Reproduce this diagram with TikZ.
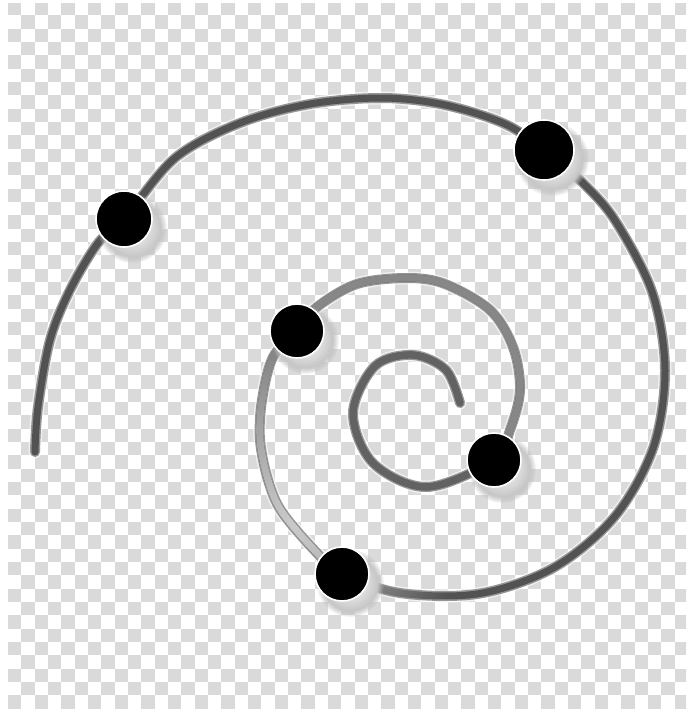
\documentclass[tikz,border=0pt]{standalone}
\usetikzlibrary{fadings}
\definecolor{chk}{RGB}{218,218,218}
\definecolor{coreline}{RGB}{82,82,82}
\definecolor{edgeline}{RGB}{150,150,150}
\definecolor{midtone}{RGB}{135,135,135}
\definecolor{lighttone}{RGB}{205,205,205}
\definecolor{innerdark}{RGB}{98,98,98}
\tikzfading[name=lightfade, inner color=transparent!0, outer color=transparent!100]
\tikzset{
  spiralglow/.style={white, line width=13pt, opacity=0.6, line cap=round, line join=round},
  spiraledge/.style={edgeline, line width=10pt, line cap=round, line join=round},
  spiralcore/.style={coreline, line width=7pt, line cap=round, line join=round},
  dotdisk/.style={circle, fill=black, draw=white, line width=1.6pt, inner sep=0pt},
  dotshade/.style={inner color=white, outer color=gray!55, path fading=circle with fuzzy edge 20 percent}
}
\begin{document}
\begin{tikzpicture}[x=1pt,y=-1pt]
\useasboundingbox (0,0) rectangle (686,709);
\fill[white] (0,0) rectangle (686,709);
% checkerboard
\begin{scope}
\clip (8,4) rectangle (686,709);
\foreach \i in {0,...,50}{
  \foreach \j in {0,...,52}{
    \pgfmathtruncatemacro\chkpar{mod(\i+\j,2)}
    \ifnum\chkpar=0
      \fill[chk] ({8+13.333*\i},{2+13.333*\j}) rectangle ++(13.333,13.333);
    \fi
  }
}
\end{scope}
% dot positions on the spiral
\coordinate (dA) at (124,219);
\coordinate (dB) at (544,150);
\coordinate (dC) at (297,331);
\coordinate (dD) at (494,460);
\coordinate (dE) at (342,574);
\def\spiralpath{plot[smooth,tension=0.55] coordinates {
 (460,403) (446,370) (413,355) (375,366) (353,413) (373,463) (427,487)
 (dD) (510,430) (520,390) (513,347) (490,310) (445,284) (407,278) (357,284) (317,307)
 (dC) (273,357) (262,400) (260,440) (268,480) (282,512) (317,553)
 (dE) (400.7,593.1) (479.4,593.6) (554.0,567.5) (614.7,516.6) (653.3,447.6)
 (665,370) (652.4,292.7) (616.2,222.2) (584.7,184.8)
 (dB) (505,124) (445,105) (383,98) (310,104) (240,123) (175,158)
 (dA) (98,243) (70,290) (50,340) (38,407) (35,452)}}
\draw[spiralglow] \spiralpath;
\draw[spiraledge] \spiralpath;
\draw[spiralcore] \spiralpath;
% inner loop tone
\begin{scope}
\clip (335,335) rectangle (472,505);
\draw[innerdark, line width=7pt, line cap=round] \spiralpath;
\end{scope}
% middle loop tone
\begin{scope}[even odd rule]
\clip (240,255) rectangle (540,560) (335,335) rectangle (472,505);
\draw[midtone, line width=7pt] \spiralpath;
\end{scope}
% light sheen fading out from lower left
\begin{scope}[even odd rule]
\clip (240,255) rectangle (630,640) (335,335) rectangle (472,505);
\draw[lighttone, line width=7pt, path fading=lightfade, fit fading=false,
      fading transform={shift={(300,520)}, scale=6.6}] \spiralpath;
\end{scope}
% dots with shadows
\foreach \p/\r in {dA/28,dB/30,dC/27,dD/27,dE/27}{
  \shade[dotshade] (\p) ++(8,9) circle[radius=\r+7];
}
\node[dotdisk, minimum size=56pt] (nA) at (dA) {};
\node[dotdisk, minimum size=60pt] (nB) at (dB) {};
\node[dotdisk, minimum size=54pt] (nC) at (dC) {};
\node[dotdisk, minimum size=54pt] (nD) at (dD) {};
\node[dotdisk, minimum size=54pt] (nE) at (dE) {};
\end{tikzpicture}
\end{document}
